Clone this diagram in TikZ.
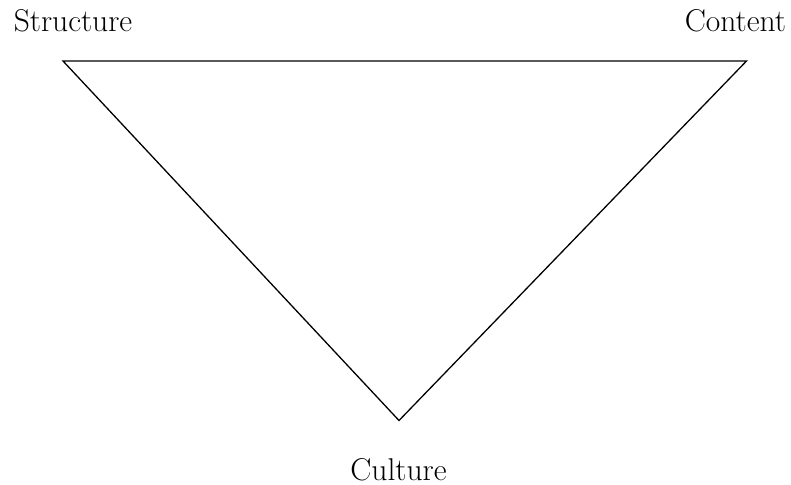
\documentclass[tikz,border=0pt]{standalone}
\begin{document}
\begin{tikzpicture}[x=1pt,y=-1pt,
  lbl/.style={font=\fontsize{31.5}{36}\selectfont, inner sep=0pt, anchor=base},
  edge/.style={line width=1.3pt, line join=miter}]
\useasboundingbox (0,0) rectangle (791,484);
\coordinate (s) at (63,61);
\coordinate (c) at (746.5,61);
\coordinate (u) at (399,420.5);
\draw[edge] (s) -- (c) -- (u) -- cycle;
\node[lbl] (ls) at (73,31.5) {Structure};
\node[lbl] (lc) at (735.5,32) {Content};
\node[lbl] (lu) at (398.5,480.5) {Culture};
\end{tikzpicture}
\end{document}
